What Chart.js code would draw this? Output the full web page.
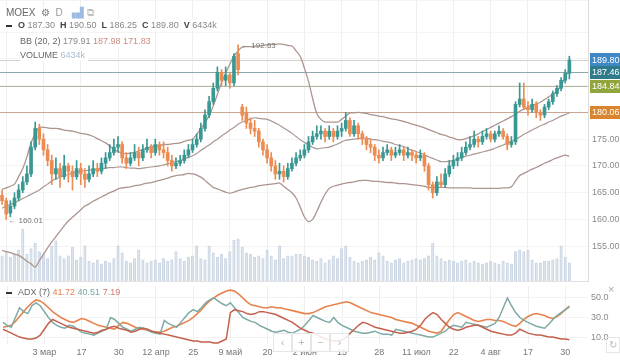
<!DOCTYPE html>
<html>
<head>
<meta charset="utf-8">
<title>MOEX</title>
<script src="https://cdn.jsdelivr.net/npm/chart.js"></script>
<style>
  body { margin: 0; width: 620px; height: 364px; overflow: hidden; background: #fff; position: relative;
         font-family: "Liberation Sans", Arial, sans-serif; }
  canvas { position: absolute; left: 0; }
  #main { top: 0; }
  #adx { top: 282px; }
  .lg { position: absolute; font-size: 9px; line-height: 12px; color: #888; background: #fff; white-space: nowrap; padding-right: 3px; }
  .lg b { color: #444; font-weight: bold; }
  .lg .g { margin-left: 5px; }
  .dash { display: inline-block; width: 6px; height: 2px; background: #333; vertical-align: middle; margin-right: 6px; }
  .btn { position: absolute; top: 333px; width: 17px; height: 17px; border: 1px solid #e6e6e6; background: rgba(255,255,255,0.85);
         color: #bbb; font-size: 11px; line-height: 17px; text-align: center; }
</style>
</head>
<body>
<canvas id="main" width="620" height="282"></canvas>
<canvas id="adx" width="620" height="82"></canvas>

<div class="lg" style="left:6px;top:7px;font-size:10px;color:#666">MOEX&nbsp; <span style="color:#777">⚙</span>&nbsp; <span style="color:#999">D</span>&nbsp; <span style="color:#9bbce0">▗▟</span> <span style="color:#bbb">⧉</span></div>
<div class="lg" style="left:6px;top:19px"><span class="dash"></span><b>O</b> 187.30<b class="g">H</b> 190.50<b class="g">L</b> 186.25<b class="g">C</b> 189.80<b class="g">V</b> 6434k</div>
<div class="lg" style="left:20px;top:35px"><span style="color:#666">BB (20, 2)</span> 179.91 <span style="color:#cf8a80">187.98</span> <span style="color:#cf8a80">171.83</span></div>
<div class="lg" style="left:20px;top:49px"><span style="color:#666">VOLUME</span> <span style="color:#a9bccf">6434k</span></div>
<div class="lg" style="left:6px;top:286px;background:transparent"><span class="dash"></span><span style="color:#666">ADX (7)</span> <span style="color:#e8804a">41.72</span> <span style="color:#7aa7a3">40.51</span> <span style="color:#d07a70">7.19</span></div>

<div class="btn" style="left:273px">‹</div>
<div class="btn" style="left:292px">+</div>
<div class="btn" style="left:311px">−</div>
<div class="btn" style="left:330px">›</div>
<div class="btn" style="left:606px;top:337px;width:12px;height:14px;line-height:14px;font-size:10px;background:transparent">↻</div>
<div style="position:absolute;left:608px;top:283px;color:#aaa;font-size:11px">×</div>

<script>
// x axis
const tickLabels = ['3 мар', '17', '30', '12 апр', '25', '9 май', '20', '2 июн', '15', '28', '11 июл', '22', '4 авг', '17', '30'];
const firstTick = 10, tickStep = 9, slots = 142;

// candles
const opens = [164.5,163.5,161.2,162.5,164.0,165.5,167.0,168.5,173.5,177.0,
  175.0,173.0,171.0,168.5,169.5,168.0,170.0,169.0,168.0,169.5,
  168.5,167.5,168.5,169.5,169.0,170.5,171.5,172.5,173.5,174.0,
  171.5,170.5,171.5,172.5,171.5,173.0,173.5,172.5,174.0,173.0,
  172.5,171.0,170.0,170.5,171.0,172.0,173.0,174.0,175.0,177.0,
  179.5,182.0,184.5,187.5,186.0,187.0,185.5,191.0,181.0,180.0,
  178.0,177.0,176.5,174.5,173.0,171.5,170.0,168.5,169.0,168.0,
  169.5,170.5,171.5,172.0,173.0,174.5,175.5,176.0,176.5,175.5,
  176.5,175.5,176.5,177.0,178.5,176.0,177.5,176.0,175.0,174.0,
  173.5,172.0,171.5,172.5,173.0,172.0,172.5,173.0,172.0,172.5,
  172.0,171.5,172.0,170.0,166.5,165.0,167.0,166.5,168.5,170.0,
  171.0,171.5,172.5,173.5,174.0,175.0,174.5,175.5,176.0,175.0,
  176.0,176.5,175.5,174.0,174.5,181.5,182.5,181.0,180.5,181.5,
  180.0,179.5,181.0,182.0,183.5,184.5,186.0,187.3];
const highs = [165.5,164.0,163.5,165.0,166.5,168.0,170.0,174.5,178.2,177.8,
  176.0,174.0,172.0,171.5,170.5,172.0,170.5,170.0,171.0,170.5,
  169.5,170.0,171.0,170.5,171.5,172.5,174.0,175.0,175.5,174.5,
  172.5,172.5,174.0,173.5,174.0,175.0,174.0,175.0,174.5,174.5,
  173.5,172.0,171.5,172.0,173.0,174.0,175.0,176.0,178.0,180.5,
  183.0,185.5,188.5,188.0,188.5,187.5,191.0,192.63,181.5,181.0,
  179.0,178.5,177.0,175.0,174.0,172.5,171.0,170.5,170.0,170.5,
  171.5,172.5,173.0,174.0,175.5,176.5,177.5,177.5,177.0,177.5,
  177.0,177.5,178.0,180.0,179.0,178.5,178.0,176.5,175.5,175.0,
  174.0,173.0,173.5,174.0,173.5,173.5,174.0,173.5,173.5,173.0,
  172.5,173.0,172.5,170.5,167.0,168.0,168.5,169.5,171.0,172.0,
  172.5,173.5,174.5,175.5,176.5,175.5,176.5,177.0,176.5,176.5,
  177.5,177.0,176.0,175.5,182.0,185.5,185.5,182.0,182.5,182.0,
  180.5,181.5,182.5,184.0,185.0,186.5,188.0,190.5];
const lows = [162.8,160.01,160.5,162.0,163.5,165.0,166.5,168.0,173.0,174.0,
  172.0,170.0,166.5,167.5,166.0,167.5,167.0,165.5,167.5,166.5,
  166.0,167.0,168.0,168.0,168.5,169.5,171.0,172.0,172.5,170.5,
  169.5,170.0,171.0,170.0,171.0,172.5,171.5,172.0,172.0,171.5,
  170.0,169.0,169.5,170.0,170.5,171.5,172.5,173.5,174.5,176.5,
  179.0,181.5,184.0,185.0,185.0,184.5,185.0,187.0,178.5,177.0,
  176.0,175.5,173.5,172.0,170.5,169.0,167.5,167.5,167.0,167.5,
  169.0,170.0,171.0,171.5,172.5,174.0,175.0,175.0,174.5,175.0,
  174.5,175.0,175.5,176.5,175.5,175.5,175.0,174.0,173.0,172.5,
  171.0,170.5,171.0,172.0,171.0,171.5,172.0,171.0,171.5,171.0,
  170.5,171.0,169.0,165.5,164.0,164.5,166.0,166.0,168.0,169.5,
  170.0,171.0,172.0,173.0,173.5,173.5,174.0,175.0,174.5,174.5,
  175.5,175.0,173.0,173.5,174.0,181.0,180.5,179.5,180.0,179.0,
  178.5,179.0,180.5,181.5,183.0,184.0,185.5,186.25];
const closes = [163.5,161.0,162.5,164.0,165.5,167.0,168.5,173.5,177.0,175.0,
  173.0,171.0,168.5,169.5,168.0,170.0,169.0,168.0,169.5,168.5,
  167.5,168.5,169.5,169.0,170.5,171.5,172.5,173.5,174.0,171.5,
  170.5,171.5,172.5,171.5,173.0,173.5,172.5,174.0,173.0,172.5,
  171.0,170.0,170.5,171.0,172.0,173.0,174.0,175.0,177.0,179.5,
  182.0,184.5,187.5,186.0,187.0,185.5,190.5,188.0,179.5,178.0,
  177.0,176.5,174.5,173.0,171.5,170.0,168.5,169.0,168.0,169.5,
  170.5,171.5,172.0,173.0,174.5,175.5,176.0,176.5,175.5,176.5,
  175.5,176.5,177.0,178.5,176.0,177.5,176.0,175.0,174.0,173.5,
  172.0,171.5,172.5,173.0,172.0,172.5,173.0,172.0,172.5,172.0,
  171.5,172.0,170.0,166.5,165.0,167.0,166.5,168.5,170.0,171.0,
  171.5,172.5,173.5,174.0,175.0,174.5,175.5,176.0,175.0,176.0,
  176.5,175.5,174.0,174.5,181.5,182.5,181.0,180.5,181.5,180.0,
  179.5,181.0,182.0,183.5,184.5,186.0,187.3,189.8];

// Bollinger (20, 2)
const bbUpper = [165.6,165.9,166.2,166.6,168.0,169.5,171.7,174.3,176.0,177.2,
  177.2,177.1,177.0,177.0,176.9,176.7,176.6,176.5,176.3,176.1,
  176.0,175.8,175.5,175.1,174.7,174.3,173.7,173.1,172.7,172.4,
  172.3,172.4,172.5,172.8,173.1,173.3,173.6,173.7,173.8,174.0,
  174.0,174.1,174.2,174.3,174.6,174.8,175.0,175.9,176.9,178.1,
  179.4,181.2,183.4,185.5,187.3,189.0,190.5,191.5,192.2,192.3,
  192.3,192.4,192.4,192.5,192.6,192.7,192.7,192.8,192.7,192.5,
  192.4,191.5,190.5,188.3,185.8,182.6,179.8,178.7,178.2,178.2,
  178.2,178.2,178.7,179.3,179.9,179.9,180.0,179.9,179.8,179.6,
  179.5,179.3,179.2,179.0,178.8,178.7,178.5,178.3,178.1,177.8,
  177.6,177.4,177.1,176.8,176.5,176.2,175.9,175.7,175.4,175.2,
  174.9,174.9,175.1,175.4,175.6,176.0,176.4,176.8,177.2,177.6,
  178.0,178.4,178.8,179.2,179.7,180.2,180.6,181.0,181.3,181.6,
  181.9,182.4,182.9,183.4,184.0,185.0,186.6,188.0];
const bbMiddle = [162.1,162.5,162.8,163.1,163.5,163.9,164.3,164.7,165.1,165.5,
  166.1,166.6,167.2,167.6,167.9,168.2,168.4,168.7,168.9,169.0,
  169.1,169.2,169.3,169.4,169.5,169.6,169.7,169.7,169.8,169.8,
  169.7,169.6,169.6,169.5,169.6,169.7,169.8,169.9,170.0,170.2,
  170.4,170.6,170.8,171.0,171.3,171.6,171.9,172.3,172.9,173.4,
  173.9,174.5,175.0,175.6,176.1,176.7,177.2,177.8,178.2,178.5,
  178.8,179.0,178.9,178.8,178.7,178.4,178.0,177.6,177.1,176.6,
  176.1,175.5,174.9,174.4,173.9,173.5,173.2,173.3,173.4,173.5,
  173.8,174.1,174.5,174.8,174.9,175.0,175.1,175.2,175.2,175.0,
  174.9,174.8,174.6,174.5,174.3,174.0,173.8,173.6,173.2,172.9,
  172.7,172.4,172.1,171.7,171.4,171.1,170.8,170.8,170.9,171.0,
  171.3,171.6,171.8,172.0,172.2,172.4,172.6,172.8,173.0,173.3,
  173.6,173.9,174.3,174.6,175.0,175.4,175.9,176.3,176.7,177.1,
  177.5,177.8,178.2,178.5,178.9,179.3,179.6,179.9];
const bbLower = [154.2,154.0,153.8,153.5,153.3,152.8,152.2,151.7,151.1,152.3,
  153.5,154.7,155.8,156.8,157.8,158.8,159.7,160.4,161.1,161.8,
  162.5,162.9,163.4,163.8,164.2,164.6,165.0,165.3,165.7,165.9,
  166.0,166.1,166.3,166.4,166.6,166.8,166.9,167.1,167.3,167.5,
  167.7,168.0,168.2,168.3,168.4,168.6,168.5,168.3,167.9,167.3,
  166.6,166.0,165.7,165.4,165.1,164.9,165.1,165.4,165.6,165.8,
  166.0,166.1,166.3,166.4,166.5,166.6,166.7,166.8,166.2,165.6,
  165.0,164.0,162.3,160.5,159.6,160.0,161.5,163.2,164.7,165.8,
  166.2,166.4,166.6,166.8,166.9,167.0,167.2,167.3,167.3,167.2,
  167.1,167.1,167.0,166.9,166.9,166.8,166.7,166.7,166.6,166.5,
  166.4,166.3,166.2,166.0,166.0,166.0,166.0,166.0,165.9,165.9,
  165.9,165.9,165.9,165.9,165.8,165.8,165.8,165.8,165.8,165.8,
  165.8,165.9,165.9,166.1,167.2,168.2,168.6,169.0,169.4,169.7,
  170.1,170.5,170.8,171.2,171.5,171.8,172.0,171.8];

// volume, thousands
const volumes = [9000,10500,8500,9500,11000,18500,9500,11500,13500,10500,
  9500,8000,12500,14300,9000,8000,9000,12000,7500,8500,
  12500,7000,6500,7500,6000,7000,6500,8000,12500,10000,
  7000,6500,8000,11000,7500,6500,7000,7500,6500,8000,
  7000,7500,10500,8000,7000,8500,9000,12500,8000,7500,
  12500,10000,8500,9500,8000,10500,14500,15000,12000,10000,
  9500,8500,9000,8000,11000,9000,7500,12500,8000,9000,
  9000,9500,9500,9000,8500,7500,7000,8000,6500,7500,
  9000,8000,11500,12500,8500,7000,6500,7000,7500,8500,
  7500,10000,9000,7000,6500,7500,8000,6500,7000,7500,
  8000,7500,8000,9000,13500,9000,8000,7000,7500,7000,
  6500,7000,7500,6500,7000,6500,6000,6500,7000,6500,
  6000,7000,6500,6000,10500,11000,10500,11000,7500,6500,
  6500,7000,7000,7500,8000,12500,8500,6434];

// ADX (7)
const adxLine = [20,21,22,26,31,36,41,45,48,47,
  44,40,36,33,30,28,26,25,27,29,
  28,26,24,22,21,20,19,18,22,25,
  24,22,20,19,18,17,16,15,15,16,
  18,20,21,23,25,27,30,34,38,43,
  47,50,53,55,57,58,57,54,50,46,
  43,42,41,40,40,41,40,40,39,38,
  37,36,35,34,34,35,37,39,41,42,
  43,44,45,46,45,43,41,39,37,35,
  34,33,32,31,30,28,27,26,25,24,
  22,20,18,16,15,14,16,22,28,33,
  35,33,31,29,27,26,27,28,28,27,
  27,26,24,22,21,24,28,31,33,34,
  33,32,30,29,31,34,38,41.72];
const diPlus = [25,22,20,30,40,36,34,42,45,42,
  36,30,25,22,20,19,22,21,18,15,
  14,13,12,14,16,18,30,28,24,20,
  18,16,18,20,19,17,15,14,13,27,
  24,22,20,25,30,35,38,36,40,45,
  48,50,47,44,42,45,40,35,30,28,
  26,25,22,20,18,16,15,16,17,15,
  14,16,18,22,27,32,30,28,26,25,
  30,25,22,20,18,16,15,14,14,15,
  16,14,13,13,12,18,17,16,15,14,
  13,12,11,10,10,12,14,16,20,22,
  21,20,25,24,23,22,21,20,22,24,
  30,40,50,42,35,30,27,25,23,21,
  20,19,23,28,32,35,38,40.51];
const diMinus = [18,16,14,12,10,9,8,8,9,12,
  18,24,28,26,24,22,20,19,18,17,
  16,15,14,15,17,18,20,21,19,18,
  17,15,16,18,19,18,16,15,14,13,
  12,11,10,9,8,7,6,6,5,5,
  5,4,4,6,8,35,38,37,36,34,
  33,34,36,36,35,34,33,31,29,27,
  25,22,19,17,15,14,12,10,8,7,
  6,6,7,10,14,18,22,25,24,22,
  20,19,18,17,16,15,14,14,15,16,
  18,22,28,32,35,33,28,24,20,18,
  17,18,20,21,22,22,20,18,16,15,
  14,13,12,12,14,18,16,14,13,12,
  12,11,10,10,9,8,8,7.19];

// price levels with their badges
const levels = [189.80, 187.46, 184.84, 180.06];
const levelLines = ['#d0d0d0', '#8ea8ae', '#b4b79b', '#c9a691'];
const levelBadges = ['#4087c6', '#2f7b8b', '#90a63d', '#d9842e'];

Chart.defaults.font.family = '"Liberation Sans", Arial, sans-serif';
Chart.defaults.font.size = 9;
Chart.defaults.color = '#888';

const categories = [];
for (let i = 0; i < slots; i++) categories.push(i);

const upColor = '#3a9893', downColor = '#ec8b52';
const candleColors = closes.map((c, i) => c >= opens[i] ? upColor : downColor);
const bodies = closes.map((c, i) => [opens[i], c]);
const wicks = highs.map((h, i) => [lows[i], h]);

function vGrid(ctx) {
  return ((ctx.index - firstTick) % tickStep === 0) ? '#efefef' : 'rgba(0,0,0,0)';
}
function noPad(s) { s.width = 32; s.paddingTop = 0; s.paddingBottom = 0; }

const levelPlugin = {
  id: 'levels',
  beforeDatasetsDraw(chart) {
    const { ctx, chartArea, scales } = chart;
    ctx.save();
    ctx.lineWidth = 1;
    levels.forEach((v, k) => {
      const y = Math.round(scales.y.getPixelForValue(v)) + 0.5;
      ctx.strokeStyle = levelLines[k];
      ctx.beginPath();
      ctx.moveTo(chartArea.left, y);
      ctx.lineTo(chartArea.right, y);
      ctx.stroke();
    });
    ctx.restore();
  },
  afterDraw(chart) {
    const { ctx, chartArea, scales } = chart;
    ctx.save();
    // extremes
    let hi = 0, lo = 0;
    highs.forEach((h, i) => { if (h > highs[hi]) hi = i; });
    lows.forEach((l, i) => { if (l < lows[lo]) lo = i; });
    ctx.fillStyle = '#777';
    ctx.font = '8px "Liberation Sans", Arial, sans-serif';
    ctx.textBaseline = 'middle';
    ctx.fillText('← ' + highs[hi].toFixed(2), scales.x.getPixelForValue(hi) + 3, scales.y.getPixelForValue(highs[hi]) + 1);
    ctx.fillText('← ' + lows[lo].toFixed(2), scales.x.getPixelForValue(lo) + 2, scales.y.getPixelForValue(lows[lo]) + 1);
    // badges
    ctx.font = '9px "Liberation Sans", Arial, sans-serif';
    levels.forEach((v, k) => {
      const y = scales.y.getPixelForValue(v);
      ctx.fillStyle = levelBadges[k];
      ctx.fillRect(chartArea.right + 2, Math.round(y - 6.5), 30, 13);
      ctx.fillStyle = '#fff';
      ctx.fillText(v.toFixed(2), chartArea.right + 4, y + 0.5);
    });
    // panel separator
    ctx.strokeStyle = '#e2e2e2';
    ctx.beginPath();
    ctx.moveTo(0, 281.5);
    ctx.lineTo(chartArea.right, 281.5);
    ctx.stroke();
    ctx.restore();
  }
};

new Chart(document.getElementById('main'), {
  type: 'bar',
  data: {
    labels: categories,
    datasets: [
      { type: 'bar', data: volumes, yAxisID: 'yv', grouped: false, order: 6, barThickness: 2.5,
        backgroundColor: 'rgba(214,223,234,0.5)', borderColor: 'rgba(186,200,218,0.75)', borderWidth: 0.7 },
      { type: 'line', data: bbUpper, borderColor: '#ad958f', borderWidth: 1.3, pointRadius: 0, tension: 0.35, order: 4 },
      { type: 'line', data: bbMiddle, borderColor: '#ab9792', borderWidth: 1.2, pointRadius: 0, tension: 0.35, order: 4 },
      { type: 'line', data: bbLower, borderColor: '#ad958f', borderWidth: 1.3, pointRadius: 0, tension: 0.35, order: 4 },
      { type: 'bar', data: wicks, grouped: false, order: 2, barThickness: 1, backgroundColor: candleColors },
      { type: 'bar', data: bodies, grouped: false, order: 1, barThickness: 3, minBarLength: 1, backgroundColor: candleColors }
    ]
  },
  options: {
    responsive: false,
    animation: false,
    layout: { padding: { left: 0, right: 0, top: 0, bottom: 1 } },
    plugins: { legend: { display: false }, tooltip: { enabled: false } },
    scales: {
      x: {
        offset: true,
        afterFit: s => { s.height = 0; },
        grid: { color: vGrid, offset: false, drawTicks: false },
        border: { display: false },
        ticks: { display: false, autoSkip: false }
      },
      y: {
        position: 'right',
        min: 148.5, max: 201,
        afterFit: noPad,
        grid: { color: '#f4f4f4', drawTicks: false },
        border: { color: '#dcdcdc' },
        ticks: {
          stepSize: 5, padding: 4, color: '#8a8a8a',
          callback: v => (v >= 155 && v <= 175) ? v.toFixed(2) : ''
        }
      },
      yv: { display: false, min: 0, max: 100000 }
    }
  },
  plugins: [levelPlugin]
});

new Chart(document.getElementById('adx'), {
  type: 'line',
  data: {
    labels: categories,
    datasets: [
      { data: diMinus, borderColor: '#c4614c', borderWidth: 1.5, pointRadius: 0 },
      { data: diPlus, borderColor: '#7eaaa6', borderWidth: 1.5, pointRadius: 0 },
      { data: adxLine, borderColor: '#e8824d', borderWidth: 1.6, pointRadius: 0 }
    ]
  },
  options: {
    responsive: false,
    animation: false,
    layout: { padding: { left: 0, right: 0, top: 4, bottom: 3 } },
    plugins: { legend: { display: false }, tooltip: { enabled: false } },
    scales: {
      x: {
        offset: true,
        grid: { color: vGrid, offset: false, drawTicks: false },
        border: { display: false },
        ticks: {
          autoSkip: false, maxRotation: 0, padding: 3, color: '#777',
          callback: (v, i) => {
            const k = (i - firstTick) / tickStep;
            return (Number.isInteger(k) && k >= 0 && k < tickLabels.length) ? tickLabels[k] : '';
          }
        }
      },
      y: {
        position: 'right',
        min: 2.7, max: 62.2,
        afterFit: noPad,
        afterBuildTicks: s => { s.ticks = [{ value: 10 }, { value: 30 }, { value: 50 }]; },
        grid: { color: '#f3f3f3', drawTicks: false },
        border: { display: false },
        ticks: { padding: 3, color: '#8a8a8a', callback: v => v.toFixed(1) }
      }
    }
  }
});
</script>
</body>
</html>
